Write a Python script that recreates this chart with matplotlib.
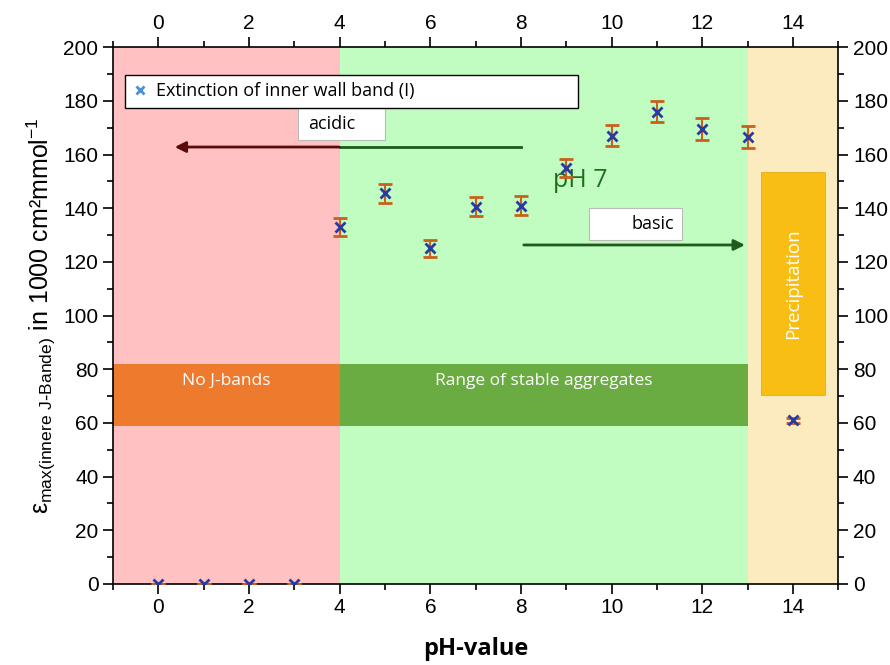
import numpy as np
import matplotlib.pyplot as plt
from matplotlib.patches import Rectangle
from matplotlib.lines import Line2D

ph = [0, 1, 2, 3, 4, 5, 6, 7, 8, 9, 10, 11, 12, 13, 14]
eps = [0, 0, 0, 0, 133, 145.5, 125, 140.5, 141, 155, 167, 176, 169.5, 166.5, 61]
err = [0, 0, 0, 0, 3.5, 3.5, 3, 3.5, 3.5, 3.5, 4, 4, 4, 4, 1]

regions = [(-1, 4, "#FFC1C1"), (4, 13, "#C1FDC1"), (13, 15, "#FDEBC0")]
label_boxes = [(-1, 4, "No J-bands", "#EE7A2E"), (4, 13, "Range of stable aggregates", "#6AAB42")]

fig = plt.figure(figsize=(8.9, 6.65), dpi=100)
ax = fig.add_axes([0.127, 0.122, 0.815, 0.807])

for x0, x1, c in regions:
    ax.axvspan(x0, x1, color=c, zorder=0, lw=0)

for x0, x1, txt, c in label_boxes:
    ax.add_patch(Rectangle((x0, 59), x1 - x0, 23, facecolor=c, edgecolor="none", zorder=1))
    ax.text((x0 + x1) / 2, 75.5, txt, color="white", ha="center", va="center",
            fontsize=12.5, family="Open Sans", zorder=2)

# precipitation box
ax.add_patch(Rectangle((13.3, 70.5), 1.4, 83, facecolor="#F9BE14", edgecolor="#E0A800",
                       lw=0.5, zorder=1))
ax.text(14.0, 112, "Precipitation", color="white", rotation=90, ha="center", va="center",
        fontsize=13.5, family="Open Sans", zorder=2)

# arrows
ax.plot([4, 8], [162.8, 162.8], color="#1E5A1E", lw=2, zorder=2)
ax.annotate("", xy=(0.3, 162.8), xytext=(4.05, 162.8),
            arrowprops=dict(arrowstyle="-|>", color="#5A0A0A", lw=2, mutation_scale=16), zorder=2)
ax.annotate("", xy=(13.0, 126.3), xytext=(8.0, 126.3),
            arrowprops=dict(arrowstyle="-|>", color="#1E5A1E", lw=2, mutation_scale=16), zorder=2)

# text boxes
ax.add_patch(Rectangle((3.09, 165.4), 1.9, 11.9, facecolor="white", edgecolor="#BBBBBB",
                       lw=0.8, zorder=3))
ax.text(3.3, 171.4, "acidic", ha="left", va="center", fontsize=13, family="Open Sans", zorder=4)
ax.add_patch(Rectangle((9.49, 128), 2.06, 12, facecolor="white", edgecolor="#BBBBBB",
                       lw=0.8, zorder=3))
ax.text(11.38, 134, "basic", ha="right", va="center", fontsize=13, family="Open Sans", zorder=4)
ax.text(9.3, 150.5, "pH 7", color="#1F6E1F", ha="center", va="center", fontsize=18,
        family="Open Sans", zorder=3)

ax.errorbar(ph, eps, yerr=err, fmt="x", color="#2A3A9E", ms=7, mew=2,
            ecolor="#C8601E", elinewidth=1.5, capsize=5, capthick=1.5, zorder=4)

ax.set_xlim(-1, 15)
ax.set_ylim(0, 200)
ax.set_xticks(np.arange(0, 15, 2))
ax.set_xticks(np.arange(-1, 16, 1), minor=True)
ax.set_yticks(np.arange(0, 201, 20))
ax.set_yticks(np.arange(0, 201, 10), minor=True)
ax.tick_params(which="both", direction="out", top=True, right=True,
               labeltop=True, labelright=True, labelsize=15, width=1.2)
ax.tick_params(which="major", length=7)
ax.tick_params(which="minor", length=4)
for lab in ax.get_xticklabels() + ax.get_yticklabels():
    lab.set_family("Liberation Sans")
for lab in ax.get_xticklabels(minor=False):
    pass
for s in ax.spines.values():
    s.set_linewidth(1.2)

ax.set_xlabel("pH-value", fontsize=17, fontweight="bold", family="Open Sans", labelpad=14)
ax.set_ylabel("ε$_{\\mathregular{max(innere\\ J\\text{-}Bande)}}$ in 1000 cm²mmol$^{\\mathregular{-1}}$",
              fontsize=18, family="Liberation Sans", labelpad=4)

handle = Line2D([], [], ls="none", marker="x", color="#4A90D9", ms=6, mew=2)
ax.legend([handle], ["Extinction of inner wall band (I)"], loc="upper left",
          bbox_to_anchor=(0.0166, 0.892, 0.625, 0.056), mode="expand",
          fancybox=False, framealpha=1, edgecolor="black", handlelength=0.8,
          handletextpad=0.5, borderaxespad=0, prop={"family": "Open Sans", "size": 13})

fig.savefig("out.png", dpi=100)
